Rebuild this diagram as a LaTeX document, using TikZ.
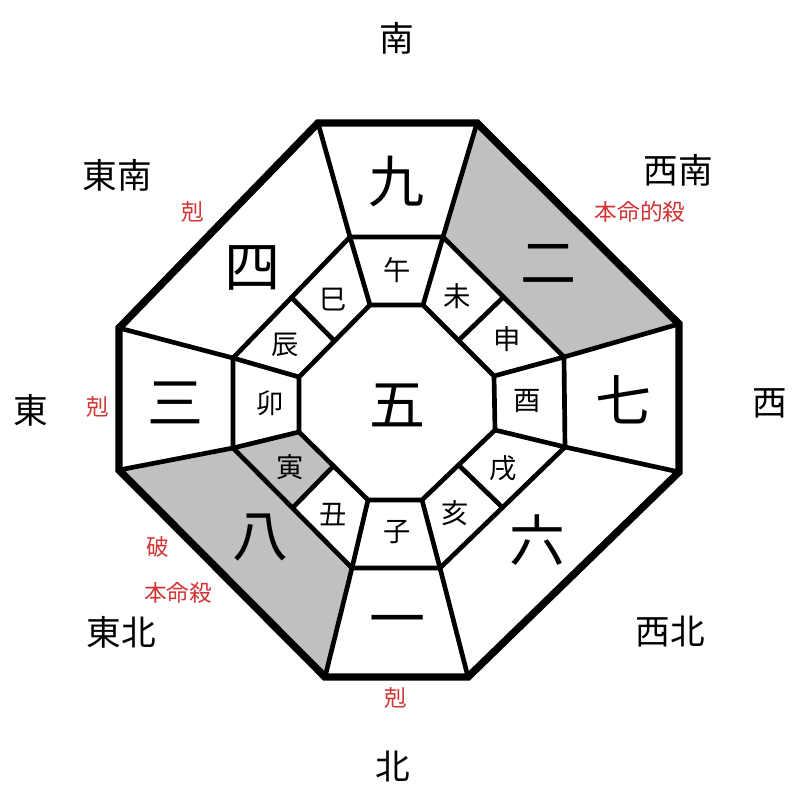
\documentclass[tikz,border=0pt]{standalone}
\usepackage{fontspec}
\usetikzlibrary{calc}
\setmainfont{Noto Sans CJK JP}
\definecolor{cellgrey}{RGB}{192,192,192}
\definecolor{redtxt}{RGB}{208,52,52}
\begin{document}
\begin{tikzpicture}[x=0.75pt,y=-0.75pt,
  outerline/.style={line width=5.6pt,line join=miter},
  innerline/.style={line width=3.5pt,line join=miter},
  dirlabel/.style={font=\fontsize{26}{26}\selectfont,inner sep=0pt},
  redlabel/.style={font=\fontsize{17}{17}\selectfont,text=redtxt,inner sep=0pt},
  starlabel/.style={font=\fontsize{42}{42}\selectfont,inner sep=0pt},
  branchlabel/.style={font=\fontsize{20.5}{20.5}\selectfont,inner sep=0pt}]
\useasboundingbox (0,0) rectangle (800,800);
\fill[white] (0,0) rectangle (800,800);
% outer octagon
\coordinate (O1) at (318,123); \coordinate (O2) at (477,123);
\coordinate (O3) at (679,324); \coordinate (O4) at (679,472);
\coordinate (O5) at (468,677); \coordinate (O6) at (325,677);
\coordinate (O7) at (119,470); \coordinate (O8) at (119,328);
% middle octagon
\coordinate (M1) at (350,237); \coordinate (M2) at (443,237);
\coordinate (M3) at (564,357); \coordinate (M4) at (565,447);
\coordinate (M5) at (440,568); \coordinate (M6) at (352,568);
\coordinate (M7) at (233,448); \coordinate (M8) at (233,358);
% inner octagon
\coordinate (I1) at (370,305); \coordinate (I2) at (423,305);
\coordinate (I3) at (494,376); \coordinate (I4) at (495,430);
\coordinate (I5) at (422,500); \coordinate (I6) at (368,500);
\coordinate (I7) at (299,432); \coordinate (I8) at (299,377);
% midpoints for branch dividers
\coordinate (A1) at ($(M8)!0.5!(M1)$); \coordinate (B1) at ($(I8)!0.5!(I1)$);
\coordinate (A2) at ($(M2)!0.5!(M3)$); \coordinate (B2) at ($(I2)!0.5!(I3)$);
\coordinate (A3) at ($(M4)!0.5!(M5)$); \coordinate (B3) at ($(I4)!0.5!(I5)$);
\coordinate (A4) at ($(M6)!0.5!(M7)$); \coordinate (B4) at ($(I6)!0.5!(I7)$);
% shaded cells
\fill[cellgrey] (O2) -- (O3) -- (M3) -- (M2) -- cycle;
\fill[cellgrey] (O7) -- (O6) -- (M6) -- (M7) -- cycle;
\fill[cellgrey] (M7) -- (A4) -- (B4) -- (I7) -- cycle;
% inner lines
\draw[innerline] (M1) -- (M2) -- (M3) -- (M4) -- (M5) -- (M6) -- (M7) -- (M8) -- cycle;
\draw[innerline] (I1) -- (I2) -- (I3) -- (I4) -- (I5) -- (I6) -- (I7) -- (I8) -- cycle;
\draw[innerline] (O1) -- (M1) -- (I1);
\draw[innerline] (O2) -- (M2) -- (I2);
\draw[innerline] (O3) -- (M3) -- (I3);
\draw[innerline] (O4) -- (M4) -- (I4);
\draw[innerline] (O5) -- (M5) -- (I5);
\draw[innerline] (O6) -- (M6) -- (I6);
\draw[innerline] (O7) -- (M7) -- (I7);
\draw[innerline] (O8) -- (M8) -- (I8);
\draw[innerline] (A1) -- (B1);
\draw[innerline] (A2) -- (B2);
\draw[innerline] (A3) -- (B3);
\draw[innerline] (A4) -- (B4);
% outer octagon
\draw[outerline] (O1) -- (O2) -- (O3) -- (O4) -- (O5) -- (O6) -- (O7) -- (O8) -- cycle;
% stars
\node[starlabel] (s9) at (396,182) {九};
\node[starlabel] (s2) at (548,264) {二};
\node[starlabel] (s7) at (623,400) {七};
\node[starlabel] (s6) at (537,540) {六};
\node[starlabel] (s1) at (397,627) {一};
\node[starlabel] (s8) at (260,538) {八};
\node[starlabel] (s3) at (175,403) {三};
\node[starlabel] (s4) at (252,268) {四};
\node[starlabel] (s5) at (397,405) {五};
% branches
\node[branchlabel] (bwu) at (397,270) {午};
\node[branchlabel] (bsi) at (333,300) {巳};
\node[branchlabel] (bchen) at (285,345) {辰};
\node[branchlabel] (bmao) at (270,403) {卯};
\node[branchlabel] (byin) at (290,467) {寅};
\node[branchlabel] (bchou) at (333,515) {丑};
\node[branchlabel] (bzi) at (397,532) {子};
\node[branchlabel] (bhai) at (455,513) {亥};
\node[branchlabel] (bxu) at (503,468) {戌};
\node[branchlabel] (byou) at (527,401) {酉};
\node[branchlabel] (bshen) at (507,339) {申};
\node[branchlabel] (bwei) at (457,296) {未};
% directions
\node[dirlabel] (dS) at (397,38) {南};
\node[dirlabel] (dSE) at (117,175) {東南};
\node[dirlabel] (dSW) at (678,170) {西南};
\node[dirlabel] (dE) at (31,410) {東};
\node[dirlabel] (dW) at (770,403) {西};
\node[dirlabel] (dNE) at (121,632) {東北};
\node[dirlabel] (dNW) at (670,632) {西北};
\node[dirlabel] (dN) at (393,766) {北};
% red labels
\node[redlabel] (rSE) at (193,212) {剋};
\node[redlabel] (rSW) at (640,212) {本命的殺};
\node[redlabel] (rE) at (98,407) {剋};
\node[redlabel] (rNE1) at (158,547) {破};
\node[redlabel] (rNE2) at (178,593) {本命殺};
\node[redlabel] (rN) at (396,698) {剋};
\end{tikzpicture}
\end{document}
